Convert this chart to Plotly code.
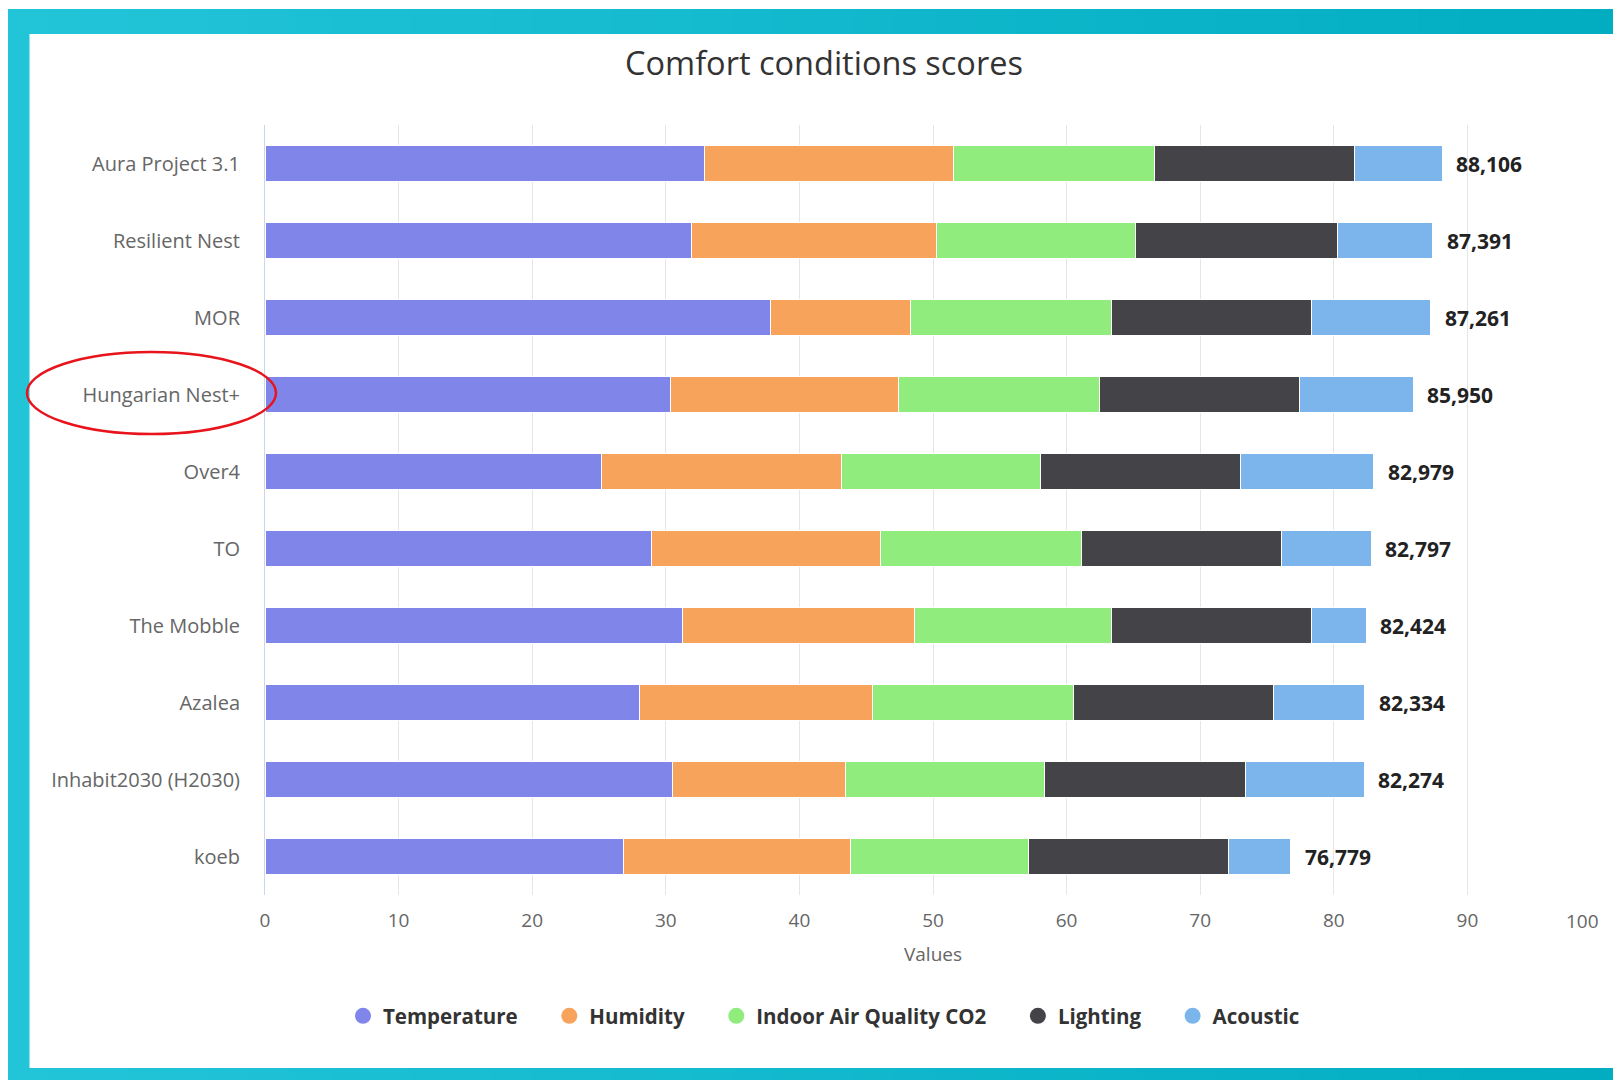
import plotly.graph_objects as go

# ---------------- data ----------------
categories = ["Aura Project 3.1", "Resilient Nest", "MOR", "Hungarian Nest+", "Over4",
              "TO", "The Mobble", "Azalea", "Inhabit2030 (H2030)", "koeb"]
temperature = [32.93, 31.89, 37.86, 30.34, 25.21, 28.95, 31.27, 28.05, 30.50, 26.87]
humidity    = [18.60, 18.35, 10.46, 17.06, 17.95, 17.15, 17.31, 17.44, 12.93, 16.94]
indoor_air  = [15.06, 14.94, 15.02, 15.06, 14.88, 15.05, 14.76, 15.00, 14.89, 13.36]
lighting    = [14.96, 15.08, 14.99, 14.95, 14.97, 14.95, 14.99, 14.98, 15.09, 14.94]
acoustic    = [6.556, 7.131, 8.931, 8.540, 9.969, 6.697, 4.094, 6.864, 8.864, 4.669]
x_ticks = [0, 10, 20, 30, 40, 50, 60, 70, 80, 90, 100]

series = [
    ("Temperature", temperature, "#8085e9"),
    ("Humidity", humidity, "#f7a35c"),
    ("Indoor Air Quality CO2", indoor_air, "#90ed7d"),
    ("Lighting", lighting, "#434348"),
    ("Acoustic", acoustic, "#7cb5ec"),
]

totals = [round(sum(vals), 3) for vals in zip(temperature, humidity, indoor_air, lighting, acoustic)]

# ---------------- layout geometry ----------------
# the page body adds an 8 px margin; geometry below is expressed in page pixels
OFF = 8
W, H = 1621 - OFF, 1080 - OFF
PLOT_X0, PLOT_X1, PLOT_Y0, PLOT_Y1 = 265, 1601, 125, 895   # page px
L, R = PLOT_X0 - OFF, W - (PLOT_X1 - OFF)
T, B = PLOT_Y0 - OFF, H - (PLOT_Y1 - OFF)
PW, PH = PLOT_X1 - PLOT_X0, PLOT_Y1 - PLOT_Y0
FONT = "Open Sans"


def px_x(p):
    return (p - PLOT_X0) / PW


def px_y(p):
    return (PLOT_Y1 - p) / PH


fig = go.Figure()

for name, vals, color in series:
    fig.add_trace(go.Bar(
        name=name, y=categories, x=vals, orientation="h",
        marker=dict(color=color, line=dict(color="white", width=1)),
        showlegend=False, legendgroup=name, hoverinfo="x+y+name",
    ))

# legend entries with circle symbols (extra trailing spacing like the original legend)
pad = "\u00a0" * 5
for i, (name, vals, color) in enumerate(series):
    label = name + (pad if i < len(series) - 1 else "")
    fig.add_trace(go.Scatter(
        name=label, x=[None], y=[None], mode="markers",
        marker=dict(color=color, size=16, symbol="circle"),
        showlegend=True, legendgroup=name, hoverinfo="skip",
    ))

# stack total labels
for cat, tot in zip(categories, totals):
    fig.add_annotation(
        x=tot, y=cat, xref="x", yref="y", text=f"{tot:.3f}".replace(".", ","),
        showarrow=False, xanchor="left", yanchor="middle", xshift=12,
        font=dict(family=FONT, size=21, color="#222222", weight="bold"),
    )

# last x tick label kept inside the chart (as in the original)
fig.add_annotation(
    x=x_ticks[-1], y=0, xref="x", yref="paper", text=str(x_ticks[-1]),
    showarrow=False, xanchor="right", yanchor="middle", yshift=-26,
    font=dict(family=FONT, size=19, color="#666666"),
)

shapes = []
# teal frame (horizontal gradient approximated with strips)
n = 40
c0 = (0x22, 0xc4, 0xd8)
c1 = (0x02, 0xad, 0xc2)
x_start, x_end = 7, 1621
for i in range(n):
    t = i / (n - 1)
    col = "rgb({},{},{})".format(*[round(a + (b - a) * t) for a, b in zip(c0, c1)])
    xa = x_start + (x_end - x_start) * i / n
    xb = min(x_start + (x_end - x_start) * (i + 1) / n + 1, x_end)
    shapes.append(dict(type="rect", xref="paper", yref="paper", layer="below",
                       x0=px_x(xa), x1=px_x(xb), y0=px_y(1080), y1=px_y(9),
                       fillcolor=col, line=dict(width=0)))
# white panel
shapes.append(dict(type="rect", xref="paper", yref="paper", layer="below",
                   x0=px_x(29.5), x1=px_x(1617), y0=px_y(1068), y1=px_y(34),
                   fillcolor="white", line=dict(width=0)))
# red highlight ellipse
shapes.append(dict(type="circle", xref="paper", yref="paper", layer="above",
                   x0=px_x(27), x1=px_x(276), y0=px_y(434), y1=px_y(352),
                   line=dict(color="#e8141c", width=2.5), fillcolor="rgba(0,0,0,0)"))

fig.update_layout(
    width=W, height=H,
    margin=dict(l=L, r=R, t=T, b=B, autoexpand=False),
    barmode="stack", bargap=0.52,
    paper_bgcolor="white", plot_bgcolor="rgba(0,0,0,0)",
    font=dict(family=FONT, color="#666666"),
    title=dict(text="Comfort conditions scores", x=(824 - OFF) / W, xanchor="center",
               xref="container", y=1 - (64 - OFF) / H, yanchor="middle", yref="container",
               font=dict(family=FONT, size=32.5, color="#333333")),
    legend=dict(orientation="h", x=px_x(824), xanchor="center", y=px_y(1016), yanchor="middle",
                font=dict(family=FONT, size=20.5, color="#333333", weight="bold"),
                bgcolor="rgba(0,0,0,0)", itemsizing="trace", traceorder="normal"),
    shapes=shapes,
    showlegend=True,
)

fig.update_xaxes(
    range=[0, 100], tickvals=x_ticks,
    ticktext=[str(v) for v in x_ticks[:-1]] + [""],
    showgrid=True, gridcolor="#e6e6e6", gridwidth=1, zeroline=False, showline=False,
    ticks="", tickfont=dict(family=FONT, size=19, color="#666666"), ticklabelstandoff=12,
    title=dict(text="Values", font=dict(family=FONT, size=19, color="#666666"), standoff=15),
    automargin=False,
)
fig.update_yaxes(
    categoryorder="array", categoryarray=categories, autorange="reversed",
    showgrid=False, zeroline=False, showline=True, linecolor="#ccd6eb", linewidth=1,
    ticks="", tickfont=dict(family=FONT, size=20, color="#666666"), ticklabelstandoff=20,
    automargin=False,
)

fig.write_html("out.html")
